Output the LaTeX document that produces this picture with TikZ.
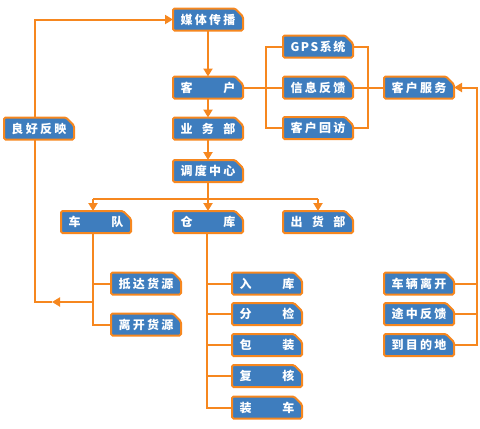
\documentclass[tikz,border=0pt]{standalone}
\usepackage{fontspec}
\newfontfamily\cjk{Noto Sans CJK SC}
\usetikzlibrary{arrows.meta,backgrounds,calc}
\definecolor{bfill}{RGB}{62,125,190}
\definecolor{bord}{RGB}{246,135,31}
\tikzset{
 boxn/.style={minimum width=70pt, minimum height=22pt, inner sep=0pt, outer sep=0pt, text=white, font=\cjk\bfseries\fontsize{12}{12}\selectfont},
 boxd/.style={fill=bfill, draw=bord, line width=2pt, rounded corners=1.5pt},
 con/.style={draw=bord, line width=2pt},
 arr/.style={con, -{Triangle[length=8pt,width=9pt]}},
}
\newcommand\mybox[3]{%
 \node[boxn] (#1) at (#2) {\hbox to 55pt{#3}};
 \begin{pgfonlayer}{background}
 \draw[boxd] (#1.south west) -- (#1.north west) -- ([xshift=-8pt]#1.north east) -- ([yshift=-8pt]#1.north east) -- (#1.south east) -- cycle;
 \end{pgfonlayer}}
\begin{document}
\begin{tikzpicture}[x=1pt,y=-1pt]
\useasboundingbox (0,0) rectangle (480,429);
\mybox{media}{208,19.5}{媒\hfill 体\hfill 传\hfill 播}
\mybox{kehu}{208,87.5}{客\hfill 户}
\mybox{yewu}{208,128.5}{业\hfill 务\hfill 部}
\mybox{diaodu}{208,171}{调\hfill 度\hfill 中\hfill 心}
\mybox{lianghao}{39,128.5}{良\hfill 好\hfill 反\hfill 映}
\mybox{gps}{318,46.5}{G\hfill P\hfill S\hfill 系\hfill 统}
\mybox{xinxi}{318,87.5}{信\hfill 息\hfill 反\hfill 馈}
\mybox{huifang}{318,128}{客\hfill 户\hfill 回\hfill 访}
\mybox{kefu}{419,87.5}{客\hfill 户\hfill 服\hfill 务}
\mybox{chedui}{96,222}{车\hfill 队}
\mybox{cangku}{208,222}{仓\hfill 库}
\mybox{chuhuo}{318,222}{出\hfill 货\hfill 部}
\mybox{didai}{146,283.5}{抵\hfill 达\hfill 货\hfill 源}
\mybox{likai}{146,324.5}{离\hfill 开\hfill 货\hfill 源}
\mybox{ruku}{267,283.5}{入\hfill 库}
\mybox{fenjian}{267,314}{分\hfill 检}
\mybox{baozhuang}{267,345}{包\hfill 装}
\mybox{fuhe}{267,376}{复\hfill 核}
\mybox{zhuangche}{267,407.5}{装\hfill 车}
\mybox{cheliang}{419,283.5}{车\hfill 辆\hfill 离\hfill 开}
\mybox{tuzhong}{419,314}{途\hfill 中\hfill 反\hfill 馈}
\mybox{daoda}{419,345}{到\hfill 目\hfill 的\hfill 地}
% main column
\draw[arr] (media) -- (kehu);
\draw[arr] (kehu) -- (yewu);
\draw[arr] (yewu) -- (diaodu);
\coordinate (j1) at (208,199);
\coordinate (cd) at ([xshift=-3pt]chedui.north);
\draw[con] (diaodu.south) -- (j1);
\draw[con] (j1 -| cd) -- (j1 -| chuhuo.north);
\draw[arr] (j1 -| cd) -- (cd);
\draw[arr] (j1) -- (cangku.north);
\draw[arr] (j1 -| chuhuo.north) -- (chuhuo.north);
% customer branches
\draw[con] (kehu.east) -- (xinxi.west);
\draw[con] (gps.west) -- ++(-17,0) |- (huifang.west);
\draw[con] (gps.east) -- ++(15,0) |- (huifang.east);
\draw[con] (xinxi.east) -- (kefu.west);
% feedback left
\coordinate (lt) at ([xshift=-4pt]lianghao.north);
\coordinate (lb) at ([xshift=-4pt]lianghao.south);
\draw[arr] (lt) |- (media.west);
% fleet
\coordinate (cs) at ([xshift=-3pt]chedui.south);
\draw[con] (cs) |- (likai.west);
\draw[con] (didai.west) -- (didai.west -| cs);
\coordinate (fj) at (cs |- 0,302);
\coordinate (fm) at (52,302);
\draw[arr] (fj) -- (fm);
\draw[con] (fm) -| (lb);
% warehouse
\draw[con] ([xshift=-1pt]cangku.south) |- (zhuangche.west);
\foreach \n in {ruku,fenjian,baozhuang,fuhe}{
 \draw[con] (\n.west) -- (\n.west -| 207,0);
}
% right side
\coordinate (rx) at (477,0);
\draw[arr] (daoda.east) -- (daoda.east -| rx) |- (kefu.east);
\draw[con] (cheliang.east) -- (cheliang.east -| rx);
\draw[con] (tuzhong.east) -- (tuzhong.east -| rx);
\end{tikzpicture}
\end{document}
